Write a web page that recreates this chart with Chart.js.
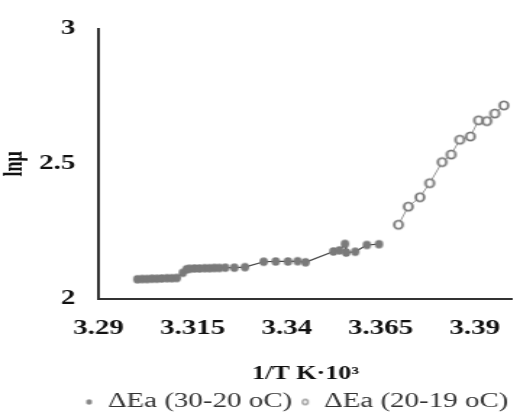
<!DOCTYPE html>
<html lang="en">
<head>
  <meta charset="UTF-8" />
  <title>lnμ vs 1/T</title>
  <script src="https://cdn.jsdelivr.net/npm/chart.js"></script>
  <style>
    * { margin: 0; padding: 0; }
    body { background: #fff; width: 520px; height: 412px; overflow: hidden; }
    /* the figure is drawn narrow and stretched sideways */
    #plot { transform-origin: 0 0; }
  </style>
</head>
<body>
  <canvas id="plot"></canvas>

  <script>
    // 1/T (K·10^3) and lnμ readings
    const warmX = [3.3003, 3.3016, 3.3029, 3.3042, 3.3055, 3.3068, 3.3082, 3.3095, 3.3108,
                   3.3124, 3.3134, 3.3142, 3.3155, 3.3168, 3.3182, 3.3195, 3.3208, 3.3221,
                   3.3237, 3.3261, 3.3289, 3.3339, 3.3371, 3.3403, 3.3429, 3.3450, 3.3524,
                   3.3540, 3.3555, 3.3558, 3.3582, 3.3613, 3.3645];
    const warmY = [2.073, 2.074, 2.074, 2.075, 2.075, 2.076, 2.077, 2.077, 2.078,
                   2.097, 2.110, 2.112, 2.113, 2.113, 2.114, 2.114, 2.115, 2.115,
                   2.116, 2.116, 2.118, 2.138, 2.139, 2.139, 2.140, 2.136, 2.176,
                   2.180, 2.204, 2.172, 2.175, 2.200, 2.203];
    const coolX = [3.3697, 3.3723, 3.3754, 3.3780, 3.3813, 3.3837, 3.3860, 3.3888, 3.3910,
                   3.3932, 3.3953, 3.3977];
    const coolY = [2.275, 2.342, 2.377, 2.429, 2.507, 2.535, 2.590, 2.602, 2.662,
                   2.659, 2.687, 2.717];
    const seriesNames = ['ΔEa (30-20 oC)', 'ΔEa (20-19 oC)'];
    const xTicks = [3.29, 3.315, 3.34, 3.365, 3.39];
    const yTicks = [2, 2.5, 3];

    const W = 520, H = 412;
    const CW = 359;              // canvas drawing width before the stretch
    const SX = W / CW;

    const canvas = document.getElementById('plot');
    canvas.width = CW;
    canvas.height = H;
    canvas.style.width = CW + 'px';
    canvas.style.height = H + 'px';
    canvas.style.transform = 'scaleX(' + SX + ')';

    // markers pre-squeezed so they come out round after the stretch
    function dot(r, fill, stroke, lw) {
      const c = document.createElement('canvas');
      const rx = r / SX;
      c.width = Math.ceil(2 * rx + lw + 2);
      c.height = Math.ceil(2 * r + lw + 2);
      const g = c.getContext('2d');
      g.beginPath();
      g.ellipse(c.width / 2, c.height / 2, rx, r, 0, 0, Math.PI * 2);
      g.fillStyle = fill;
      g.fill();
      if (stroke) {
        g.lineWidth = lw;
        g.strokeStyle = stroke;
        g.stroke();
      }
      return c;
    }
    const filledDot = dot(4.2, '#7a7a7a', null, 0);
    const hollowDot = dot(4.2, '#ffffff', '#777777', 1.8);
    const filledKey = dot(2.8, '#858585', null, 0);
    const hollowKey = dot(2.6, '#ffffff', '#8a8a8a', 1.2);

    const pts = (xs, ys) => xs.map((x, i) => ({ x: x, y: ys[i] }));

    new Chart(canvas, {
      type: 'scatter',
      data: {
        datasets: [{
          label: seriesNames[0],
          data: pts(warmX, warmY),
          showLine: true,
          borderColor: '#444',
          borderWidth: 1.2,
          pointStyle: filledDot,
          legendStyle: filledKey
        }, {
          label: seriesNames[1],
          data: pts(coolX, coolY),
          showLine: true,
          borderColor: '#999',
          borderWidth: 1,
          pointStyle: hollowDot,
          legendStyle: hollowKey
        }]
      },
      options: {
        responsive: false,
        animation: false,
        layout: { padding: { top: 29, right: 2, left: 0, bottom: -10 } },
        plugins: {
          tooltip: { enabled: false },
          legend: {
            position: 'bottom',
            align: 'end',
            labels: {
              usePointStyle: true,
              boxHeight: 6,
              pointStyleWidth: 6,
              padding: 6,
              color: '#333',
              font: { family: 'Liberation Serif', size: 20 },
              generateLabels(chart) {
                return chart.data.datasets.map((ds, i) => ({
                  text: ds.label,
                  pointStyle: ds.legendStyle,
                  fillStyle: '#fff',
                  strokeStyle: '#fff',
                  lineWidth: 0,
                  fontColor: '#333',
                  datasetIndex: i
                }));
              }
            }
          }
        },
        scales: {
          x: {
            type: 'linear',
            min: 3.29,
            max: 3.4,
            afterBuildTicks(scale) { scale.ticks = xTicks.map(v => ({ value: v })); },
            afterFit(scale) { scale.height = 87; },
            grid: { display: false, drawOnChartArea: false, tickLength: 6, tickColor: '#444' },
            border: { color: '#333', width: 2 },
            ticks: {
              color: '#111',
              padding: 12,
              font: { family: 'Liberation Serif', size: 20, weight: 'bold' },
              callback: v => String(v)
            },
            title: {
              display: true,
              text: '1/T K·10³',
              color: '#111',
              padding: { top: 0, bottom: 1 },
              font: { family: 'Liberation Serif', size: 18, weight: 'bold' }
            }
          },
          y: {
            min: 2,
            max: 3,
            afterBuildTicks(scale) { scale.ticks = yTicks.map(v => ({ value: v })); },
            afterFit(scale) { scale.width = 68; },
            grid: { display: false, drawOnChartArea: false, tickLength: 4, tickColor: '#444' },
            border: { color: '#333', width: 2 },
            ticks: {
              color: '#111',
              padding: 12,
              font: { family: 'Liberation Serif', size: 20, weight: 'bold' },
              callback: v => String(v)
            },
            title: {
              display: true,
              text: 'lnμ',
              color: '#111',
              padding: { top: 0, bottom: 0 },
              font: { family: 'Liberation Serif', size: 18, weight: 'bold' }
            }
          }
        }
      }
    });
  </script>
</body>
</html>
